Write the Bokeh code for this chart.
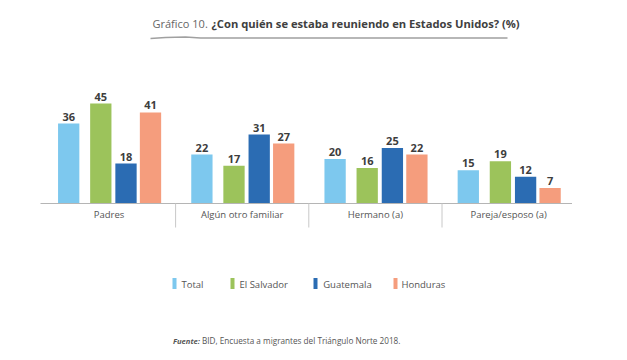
from bokeh.plotting import figure
from bokeh.models import ColumnDataSource
from bokeh.transform import dodge
from bokeh.core.properties import value
from bokeh.embed import file_html
from bokeh.resources import INLINE

# ---- data ----
categories = ["Padres", "Algún otro familiar", "Hermano (a)", "Pareja/esposo (a)"]
series = ["Total", "El Salvador", "Guatemala", "Honduras"]
total = [36, 22, 20, 15]
el_salvador = [45, 17, 16, 19]
guatemala = [18, 31, 25, 12]
honduras = [41, 27, 22, 7]

# ---- styles ----
colors = ["#7DC8EE", "#9CC35B", "#2B6CB3", "#F59D7D"]
FONT = "Open Sans"
W, H = 611, 352
X0, XS = 108.5, 133.2      # px of first group centre, px per group
Y0, YS = 203.0, 2.222      # px of baseline, px per unit


def dx(px):
    return (px - X0) / XS


def dy(py):
    return (Y0 - py) / YS


p = figure(width=W, height=H, output_backend="svg", toolbar_location=None,
           x_range=(dx(0), dx(W)), y_range=(dy(H), dy(0)),
           x_axis_location=None, y_axis_location=None, min_border=0)
p.outline_line_color = None
p.grid.visible = False
p.background_fill_color = "white"

src = ColumnDataSource(dict(x=list(range(len(categories))), cat=categories,
                            s0=total, s1=el_salvador, s2=guatemala, s3=honduras,
                            l0=[str(v) for v in total], l1=[str(v) for v in el_salvador],
                            l2=[str(v) for v in guatemala], l3=[str(v) for v in honduras]))

offsets = [-40.3 / XS, -8.2 / XS, 17.0 / XS, 41.5 / XS]
bw = 21.3 / XS
for i in range(4):
    p.vbar(x=dodge("x", offsets[i], range=p.x_range), top=f"s{i}", width=bw, bottom=0,
           source=src, fill_color=colors[i], line_color=None)
    p.text(x=dodge("x", offsets[i], range=p.x_range), y=f"s{i}", text=f"l{i}", source=src,
           text_align="center", text_baseline="bottom", y_offset=-3,
           text_font=value(FONT), text_font_style="bold", text_font_size="11px",
           text_color="#3d3d3d")

# axis line and separators
p.segment(x0=[dx(40)], y0=[0], x1=[dx(571.5)], y1=[0], line_color="#b5b5b5", line_width=1)
p.segment(x0=[k + 0.5 for k in range(3)], y0=[0] * 3, x1=[k + 0.5 for k in range(3)],
          y1=[dy(227)] * 3, line_color="#c8c8c8", line_width=1)

# category labels
p.text(x="x", y=0, text="cat", source=src, text_align="center", text_baseline="middle",
       y_offset=10.5, text_font=value(FONT), text_font_size="9.5px", text_color="#555555")

# title
p.text(x=[dx(152)], y=[dy(23)], text=["Gráfico 10."], text_align="left", text_baseline="middle",
       text_font=value(FONT), text_font_size="11px", text_color="#666666")
p.text(x=[dx(211)], y=[dy(23)], text=["¿Con quién se estaba reuniendo en Estados Unidos? (%)"],
       text_align="left", text_baseline="middle", text_font=value(FONT),
       text_font_style="bold", text_font_size="11.2px", text_color="#404040")
p.line(x=[dx(150), dx(165), dx(185), dx(200), dx(507)],
       y=[dy(38), dy(37), dy(36.5), dy(37.5), dy(37.5)], line_color="#a0a0a0", line_width=1.3)

# legend
leg_box_x = [174, 232, 315, 395]
leg_txt_x = [181, 239, 322.7, 401]
p.rect(x=[dx(v) for v in leg_box_x], y=[dy(283)] * 4, width=4, height=11,
       width_units="screen", height_units="screen", fill_color=colors, line_color=None)
p.text(x=[dx(v) for v in leg_txt_x], y=[dy(283.5)] * 4, text=series, text_align="left",
       text_baseline="middle", text_font=value(FONT), text_font_size="9.5px",
       text_color="#555555")

# source note
p.text(x=[dx(172.5)], y=[dy(340)], text=["Fuente:"], text_align="left", text_baseline="middle",
       text_font=value(FONT), text_font_style="bold italic", text_font_size="7.6px",
       text_color="#555555")
p.text(x=[dx(201.5)], y=[dy(340)], text=["BID, Encuesta a migrantes del Triángulo Norte 2018."],
       text_align="left", text_baseline="middle", text_font=value(FONT),
       text_font_size="8.2px", text_color="#555555")

open("out.html", "w").write(file_html(p, INLINE))
